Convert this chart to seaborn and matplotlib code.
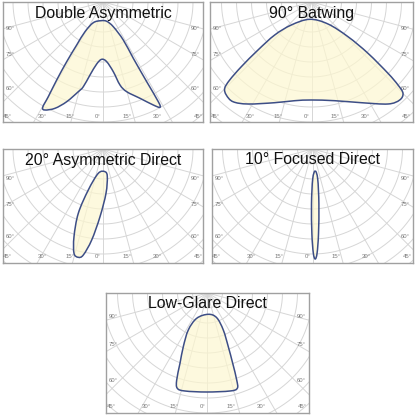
import numpy as np
import matplotlib
matplotlib.use("Agg")
import matplotlib.pyplot as plt
from matplotlib.path import Path
from matplotlib.patches import PathPatch
import seaborn as sns

sns.set_theme(style="white")
plt.rcParams['font.family'] = ['Liberation Sans', 'DejaVu Sans']

titles = ["Double Asymmetric", "90° Batwing", "20° Asymmetric Direct",
          "10° Focused Direct", "Low-Glare Direct"]

# traced beam outlines: x (px right of panel centre), y (px below panel top)
da_x = [-2, -9.7, -18, -26.3, -36.3, -46.3, -54.7, -60.3, -58, -48, -36.3, -24.7, -19.7, -13, -6.3, -1.3,
        3.7, 10.3, 17, 23.7, 37, 50.3, 57, 55.3, 43.7, 30.3, 20.3, 10.3, 3.7]
da_y = [18.7, 20.7, 29.7, 43, 59.7, 78, 94.7, 105.3, 108, 106.3, 99.7, 89.7, 84.7, 73, 62, 57.3,
        59.7, 69.7, 83, 89.7, 96.3, 103, 105.3, 99.7, 79.7, 56.3, 38, 24.7, 19.3]

bw_x = [-1.8, -20.2, -36.8, -53.5, -70.2, -81.8, -86.8, -85.2, -78.5, -63.5, -36.8, -16.8, -0.2,
        23.2, 49.8, 76.5, 88.2, 91.5, 86.5, 76.5, 56.5, 36.5, 16.5]
bw_y = [17.3, 23, 33, 48, 64.7, 78, 86.3, 93, 99.7, 102, 100.7, 98.7, 98,
        98.7, 100.7, 102, 98, 91.3, 83, 71.3, 51.3, 34.7, 22]

ad_x = [2, 4.3, 3, -3, -11.3, -19.7, -24.7, -29, -29, -24.7, -14.7, -4.7]
ad_y = [22.7, 27.7, 44.3, 67.7, 91, 106, 108.3, 104.3, 87.7, 64.3, 41, 24.3]

fd_x = [2.7, 5.2, 6.4, 6.0, 4.6, 2.7, 0.8, -0.6, -1.0, 0.2]
fd_y = [22, 30, 55, 85, 104, 110, 104, 85, 55, 30]

lg_x = [0.8, -10.8, -19.2, -24.2, -27.5, -30.8, -30.2, -22.5, -0.8, 22.5, 29.8, 29.2, 25.2, 20.8, 15.8, 9.2]
lg_y = [21.3, 25.3, 37, 53.7, 70.3, 87, 95.3, 98, 99, 98, 95.3, 87, 70.3, 53.7, 37, 24.7]

shapes = [(da_x, da_y), (bw_x, bw_y), (ad_x, ad_y), (fd_x, fd_y), (lg_x, lg_y)]

side_labels = ["90°", "75°", "60°"]
bottom_labels = ["45°", "30°", "15°", "0°", "15°", "30°", "45°"]
bottom_pos = [-96, -61, -33, -5, 24, 54, 95]
grid_angles = np.arange(-180, 181, 15)
ring_radii = np.arange(15, 260, 15)

# panel rectangles in figure pixels: left, top, width, height
panels = [(3, 2, 200, 120), (210, 2, 203, 120), (3, 149, 200, 114),
          (212, 149, 201, 114), (106, 293, 203, 120)]
side_pos = [[26, 52, 86], [26, 52, 86], [29, 56, 88], [29, 56, 88], [24, 52, 87]]

W = H = 416
fig = plt.figure(figsize=(4.16, 4.16), dpi=100)
fill_c = "#fdf7d0"
line_c = "#3d4e86"
grid_c = "#d6d6d6"
lab_c = "#7a7a7a"
CY = 0


def smooth_path(x, y):
    p = np.column_stack([x, y])
    n = len(p)
    verts = [p[0]]
    codes = [Path.MOVETO]
    for i in range(n):
        p0, p1, p2, p3 = p[i - 1], p[i], p[(i + 1) % n], p[(i + 2) % n]
        verts += [p1 + (p2 - p0) / 6, p2 - (p3 - p1) / 6, p2]
        codes += [Path.CURVE4] * 3
    return Path(verts, codes)


for (px, py, pw, ph), title, (sx, sy), spos in zip(panels, titles, shapes, side_pos):
    ax = fig.add_axes([px / W, 1 - (py + ph) / H, pw / W, ph / H])
    ax.set_xlim(-pw / 2, pw / 2)
    ax.set_ylim(ph, 0)
    ax.set_xticks([]); ax.set_yticks([])
    for s in ax.spines.values():
        s.set_color("#a0a0a0"); s.set_linewidth(1.0)
    t = np.linspace(0, 2 * np.pi, 300)
    for r in ring_radii:
        ax.plot(r * np.cos(t), CY + r * np.sin(t), color=grid_c, lw=0.7, zorder=1)
    for a in grid_angles:
        rad = np.deg2rad(a)
        ax.plot([0, 400 * np.sin(rad)], [CY, CY + 400 * np.cos(rad)], color=grid_c, lw=0.7, zorder=1)
    path = smooth_path(np.array(sx, float), np.array(sy, float))
    ax.add_patch(PathPatch(path, facecolor=fill_c, edgecolor="none", alpha=0.7, zorder=2))
    ax.add_patch(PathPatch(path, facecolor="none", edgecolor=line_c, lw=1.1, zorder=4))
    for lab, yy in zip(side_labels, spos):
        ax.text(-pw / 2 + 3, yy, lab, fontsize=4.3, color=lab_c, ha="left", va="center")
        ax.text(pw / 2 - 3, yy, lab, fontsize=4.3, color=lab_c, ha="right", va="center")
    for lab, xx in zip(bottom_labels, bottom_pos):
        ax.text(xx, ph - 6, lab, fontsize=4.3, color=lab_c, ha="center", va="center")
    ax.text(0, 11, title, fontsize=11.4, ha="center", va="center", color="#111111", zorder=5)

fig.savefig("out.png", dpi=100)
